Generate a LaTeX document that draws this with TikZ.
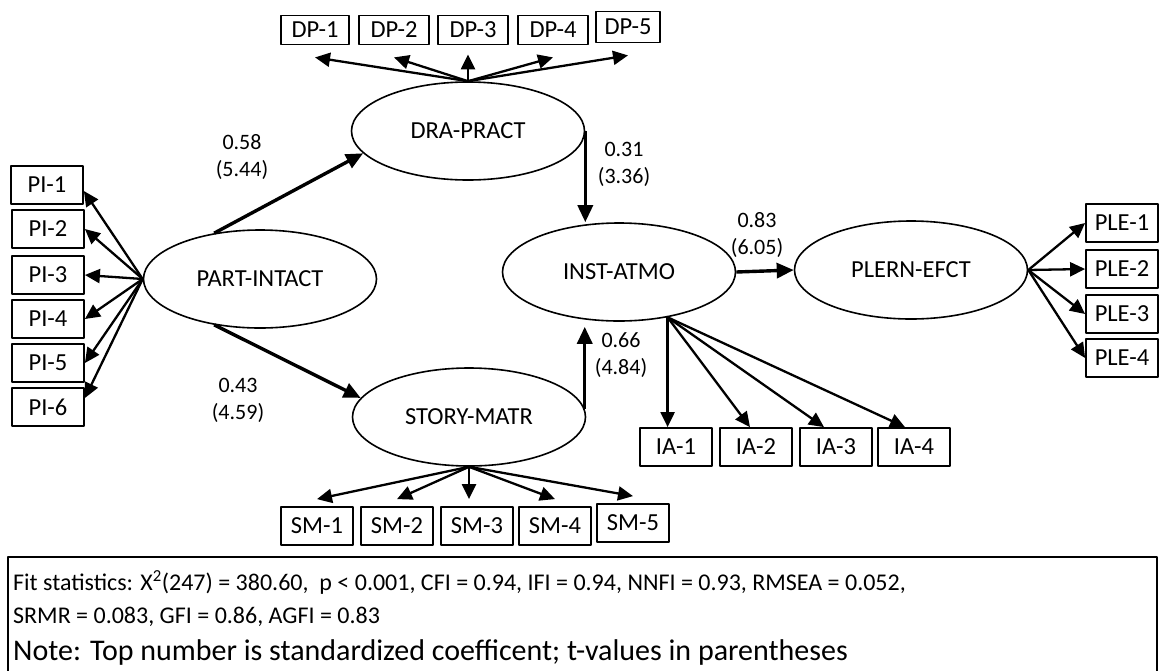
\documentclass[tikz,border=0pt]{standalone}
\usepackage{fontspec}
\setmainfont{Carlito}
\usetikzlibrary{shapes.geometric,arrows.meta}
\begin{document}
\begin{tikzpicture}[x=1pt, y=-1pt, line join=round, font=\fontsize{24.5}{28}\selectfont,
		>={Triangle[length=15pt,width=14pt]},
		latent/.style={ellipse, draw, line width=1.6pt, minimum width=233pt, minimum height=98pt, inner sep=0pt},
		item/.style={rectangle, draw, line width=1.8pt, minimum width=72pt, minimum height=38pt, inner sep=0pt},
		load/.style={->, line width=2.3pt},
		effect/.style={->, line width=3.4pt, >={Triangle[length=17pt,width=15pt]}},
		coef/.style={align=center, font=\fontsize{22}{27}\selectfont},
		fit/.style={anchor=west, inner sep=0pt}]
			\useasboundingbox (0,0) rectangle (1164,670);
			% Latent
			\node[latent] (part) at (260,279) {PART-INTACT};
			\node[latent] (dra) at (468,131) {DRA-PRACT};
			\node[latent] (story) at (469,417) {STORY-MATR};
			\node[latent] (inst) at (619,272) {INST-ATMO};
			\node[latent] (plern) at (911,270) {PLERN-EFCT};
			% Indicators
			\node[item] (pi1) at (47,185) {PI-1};
			\node[item] (pi2) at (48,229) {PI-2};
			\node[item] (pi3) at (48,275) {PI-3};
			\node[item] (pi4) at (48,319) {PI-4};
			\node[item] (pi5) at (48,363) {PI-5};
			\node[item] (pi6) at (48,407) {PI-6};
			\node[item, minimum width=68pt, minimum height=29pt] (dp1) at (315,30) {DP-1};
			\node[item, minimum width=70pt, minimum height=29pt] (dp2) at (394,30) {DP-2};
			\node[item, minimum width=70pt, minimum height=29pt] (dp3) at (473,30) {DP-3};
			\node[item, minimum width=70pt, minimum height=29pt] (dp4) at (553,30) {DP-4};
			\node[item, minimum width=64pt, minimum height=31pt] (dp5) at (628,27) {DP-5};
			\node[item] (sm1) at (317,526) {SM-1};
			\node[item] (sm2) at (397,526) {SM-2};
			\node[item] (sm3) at (477,526) {SM-3};
			\node[item] (sm4) at (555,526) {SM-4};
			\node[item] (sm5) at (633,523) {SM-5};
			\node[item] (ia1) at (676,447) {IA-1};
			\node[item] (ia2) at (756,447) {IA-2};
			\node[item] (ia3) at (836,447) {IA-3};
			\node[item] (ia4) at (914,447) {IA-4};
			\node[item] (ple1) at (1122,223) {PLE-1};
			\node[item] (ple2) at (1122,269) {PLE-2};
			\node[item] (ple3) at (1122,314) {PLE-3};
			\node[item] (ple4) at (1122,358) {PLE-4};
			\coordinate (iaout) at (inst.-43);
			% Loadings
			\draw[load] (part.west) -- ([yshift=-6pt]pi1.east);
			\draw[load] (part.west) -- (pi2.east);
			\draw[load] (part.west) -- (pi3.east);
			\draw[load] (part.west) -- (pi4.east);
			\draw[load] (part.west) -- (pi5.east);
			\draw[load] (part.west) -- ([yshift=9pt]pi6.east);
			\draw[load] (dra.north) -- ([yshift=-12pt]dp1.south);
			\draw[load] (dra.north) -- ([yshift=-12pt]dp2.south);
			\draw[load, shorten >=9pt] (dra.north) -- (dra.north |- dp3.south);
			\draw[load] (dra.north) -- ([yshift=-12pt]dp4.south);
			\draw[load] (dra.north) -- ([yshift=-12pt]dp5.south);
			\draw[load] (story.south) -- ([yshift=7pt]sm1.north);
			\draw[load] (story.south) -- ([yshift=7pt]sm2.north);
			\draw[load, shorten >=7pt] (story.south) -- (story.south |- sm3.north);
			\draw[load] (story.south) -- ([yshift=7pt]sm4.north);
			\draw[load] (story.south) -- ([yshift=7pt]sm5.north);
			\draw[load] (iaout) -- (iaout |- ia1.north);
			\draw[load] (iaout) -- ([xshift=-6pt]ia2.north);
			\draw[load] (iaout) -- ([xshift=-12pt]ia3.north);
			\draw[load] (iaout) -- ([xshift=-9pt]ia4.north);
			\draw[load] (plern.east) -- (ple1.west);
			\draw[load] (plern.east) -- (ple2.west);
			\draw[load] (plern.east) -- (ple3.west);
			\draw[load] (plern.east) -- (ple4.west);
			% Paths
			\draw[effect] (part.135) -- (dra.192);
			\draw[effect] (part.225) -- (story.170);
			\draw[effect] (dra.east) -- (dra.east |- inst.north);
			\draw[effect, shorten >=5pt] (story.4) -- (story.4 |- inst.south);
			\draw[effect] (inst.east) -- (plern.west);
			\node[coef] (c1) at (242,157) {0.58\\(5.44)};
			\node[coef] (c2) at (238,400) {0.43\\(4.59)};
			\node[coef] (c3) at (624,164) {0.31\\(3.36)};
			\node[coef] (c4) at (757,235) {0.83\\(6.05)};
			\node[coef] (c5) at (621,355) {0.66\\(4.84)};
			% Fit box
			\draw[line width=1.4pt] (8,557) rectangle (1157,674);
			\node[fit, font=\fontsize{24}{28}\selectfont] (fit1) at (13,582) {Fit statistics: X\textsuperscript{2}(247) = 380.60,\ \ p < 0.001, CFI = 0.94, IFI = 0.94, NNFI = 0.93, RMSEA = 0.052,};
			\node[fit, font=\fontsize{24}{28}\selectfont] (fit2) at (13,617) {SRMR = 0.083, GFI = 0.86, AGFI = 0.83};
			\node[fit, font=\fontsize{30}{34}\selectfont] (fit3) at (13,652) {Note: Top number is standardized coefficent; t-values in parentheses};
		\end{tikzpicture}
\end{document}
